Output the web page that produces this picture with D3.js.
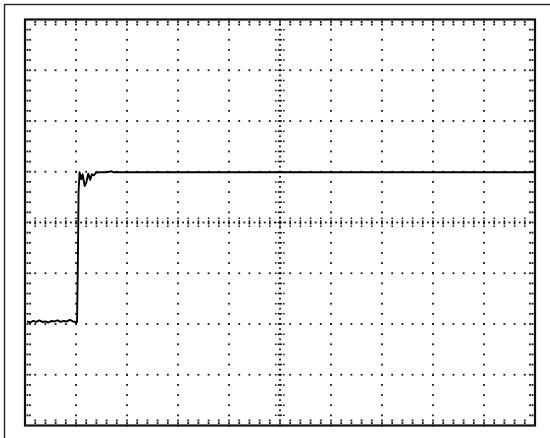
<!DOCTYPE html>
<html>
<head>
<meta charset="utf-8">
<script src="https://cdn.jsdelivr.net/npm/d3@7"></script>
<style>
  html, body { margin: 0; padding: 0; background: #fff; }
  svg { display: block; }
</style>
</head>
<body>
<svg id="scope" width="550" height="438"></svg>
<script>
// Graticule: 10 horizontal x 8 vertical divisions, centred on zero
const xDivisions = [0, 10];
const yDivisions = [-4, 4];

// Captured step response (time in divisions, amplitude in divisions)
const times = [0.04, 0.1, 0.16, 0.22, 0.28, 0.34, 0.4, 0.46, 0.52, 0.58, 0.64, 0.7, 0.76, 0.82, 0.88, 0.94, 1.0,
  1.02, 1.035, 1.05, 1.07, 1.1, 1.13, 1.17, 1.2, 1.24, 1.28, 1.31, 1.35, 1.39, 1.45, 1.6, 1.7, 1.73, 1.77, 2.5, 4, 5.5, 7, 8.5, 10];
const volts = [-1.95, -1.97, -1.94, -1.96, -1.93, -1.96, -1.95, -1.97, -1.94, -1.95, -1.93, -1.96, -1.94, -1.95, -1.92, -1.95, -1.96,
  -1.96, -0.9, 0.6, 0.99, 0.85, 0.95, 0.72, 0.78, 0.96, 0.84, 0.95, 0.93, 0.98, 0.99, 0.99, 1.01, 0.99, 0.99, 0.99, 0.99, 0.99, 0.99, 0.99, 0.99];

const svg = d3.select("#scope");
const x = d3.scaleLinear().domain(xDivisions).range([25, 535]);
const y = d3.scaleLinear().domain(yDivisions).range([425.5, 19.5]);

// outer frame
svg.append("rect")
  .attr("x", 4.5).attr("y", 4.5).attr("width", 600).attr("height", 500)
  .attr("fill", "none").attr("stroke", "#222").attr("stroke-width", 1.4);

const g = svg.append("g");
const dotColor = "#111";
const dot = (cx, cy) => g.append("rect")
  .attr("x", cx - 0.9).attr("y", cy - 0.9).attr("width", 1.8).attr("height", 1.8)
  .attr("fill", dotColor);

// dotted major grid lines
d3.range(-3, 4).filter(v => v !== 0).forEach(v => {
  d3.range(0, 10.001, 0.2).forEach(t => dot(x(t), y(v)));
});
d3.range(1, 10).filter(t => t !== 5).forEach(t => {
  d3.range(-4, 4.001, 0.2).forEach(v => dot(x(t), y(v)));
});

// centre axes with fine ticks
d3.range(0, 10.001, 0.1).forEach(t => dot(x(t), y(0)));
d3.range(0.2, 9.9, 0.2).forEach(t => {
  g.append("line").attr("x1", x(t)).attr("x2", x(t))
    .attr("y1", y(0) - 5).attr("y2", y(0) + 5)
    .attr("stroke", dotColor).attr("stroke-width", 1.5).attr("stroke-dasharray", "1.5,1.2");
});
d3.range(-4, 4.001, 0.1).forEach(v => dot(x(5), y(v)));
d3.range(-3.8, 3.9, 0.2).forEach(v => {
  g.append("line").attr("y1", y(v)).attr("y2", y(v))
    .attr("x1", x(5) - 5).attr("x2", x(5) + 5)
    .attr("stroke", dotColor).attr("stroke-width", 1.5).attr("stroke-dasharray", "1.5,1.2");
});

// edge ticks pointing inwards
d3.range(0.2, 9.9, 0.2).forEach(t => {
  dot(x(t), y(4) + 2.5); dot(x(t), y(4) + 5);
  dot(x(t), y(-4) - 2.5); dot(x(t), y(-4) - 5);
});
d3.range(-3.8, 3.9, 0.2).forEach(v => {
  dot(x(0) + 2.5, y(v)); dot(x(0) + 5, y(v));
  dot(x(10) - 2.5, y(v)); dot(x(10) - 5, y(v));
});

// plot border
g.append("rect")
  .attr("x", x(0)).attr("y", y(4))
  .attr("width", x(10) - x(0)).attr("height", y(-4) - y(4))
  .attr("fill", "none").attr("stroke", "#111").attr("stroke-width", 2.2);

// trace
const trace = times.map((t, i) => [t, volts[i]]);
g.append("path")
  .datum(trace)
  .attr("fill", "none").attr("stroke", "#000").attr("stroke-width", 1.9)
  .attr("stroke-linejoin", "round")
  .attr("d", d3.line().x(d => x(d[0])).y(d => y(d[1])));
</script>
</body>
</html>
